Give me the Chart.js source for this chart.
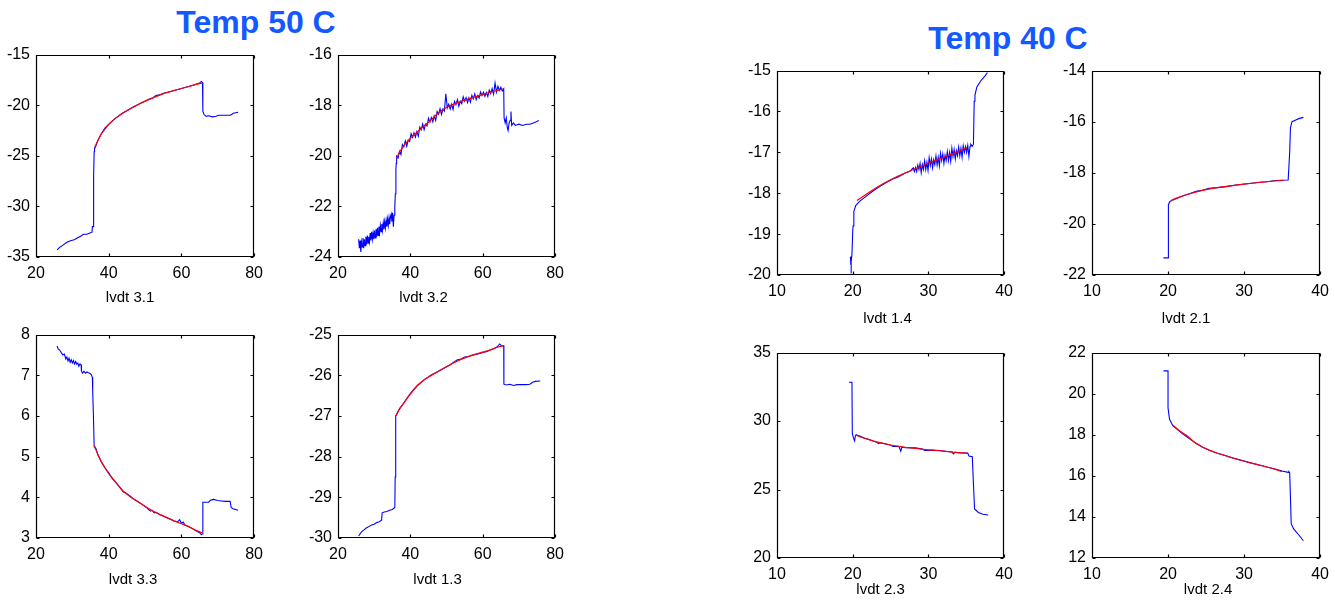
<!DOCTYPE html>
<html><head><meta charset="utf-8">
<script src="https://cdn.jsdelivr.net/npm/chart.js@4"></script>
<style>
html,body{margin:0;padding:0;background:#fff;}
body{width:1335px;height:603px;position:relative;overflow:hidden;font-family:"Liberation Sans",Arial,sans-serif;}
canvas{position:absolute;}
.ttl{position:absolute;font:bold 32px/32px "Liberation Sans",Arial,sans-serif;color:#1458ff;white-space:nowrap;transform:translateX(-50%);}
</style></head><body>
<div class="ttl" style="left:256px;top:6px">Temp 50 C</div>
<div class="ttl" style="left:1008px;top:22px">Temp 40 C</div>
<script>
// ---------- tick labels ----------
const xTicks50 = [20, 40, 60, 80];
const xTicks40 = [10, 20, 30, 40];
const yTicks31 = [-35, -30, -25, -20, -15];
const yTicks32 = [-24, -22, -20, -18, -16];
const yTicks33 = [3, 4, 5, 6, 7, 8];
const yTicks13 = [-30, -29, -28, -27, -26, -25];
const yTicks14 = [-20, -19, -18, -17, -16, -15];
const yTicks21 = [-22, -20, -18, -16, -14];
const yTicks23 = [20, 25, 30, 35];
const yTicks24 = [12, 14, 16, 18, 20, 22];

// ---------- series: measured (blue) and fit (red) ----------
const lvdt31Data = [[25.8,-34.3],[26.5,-34.05],[27.5,-33.8],[28.5,-33.55],[29.5,-33.4],[30.5,-33.3],[31.5,-33.1],[32.5,-32.9],[33,-32.75],[34,-32.75],[35,-32.6],[35.4,-32.55],[35.5,-32.0],[35.7,-32.0],[35.8,-30],[35.9,-27],[36.0,-24.6],[36.1,-24.3],[36.5,-24.0],[37,-23.5],[38,-22.8],[39,-22.25],[40,-21.9],[41,-21.55],[42,-21.25],[43,-21.0],[44,-20.75],[45,-20.55],[46,-20.33],[47,-20.12],[48,-19.95],[49,-19.75],[50,-19.6],[51,-19.42],[52,-19.3],[53,-19.05],[54,-18.98],[55,-18.82],[56,-18.75],[57,-18.64],[58,-18.55],[59,-18.45],[60,-18.35],[61,-18.26],[62,-18.15],[63,-18.05],[64,-17.92],[65,-17.8],[65.5,-17.65],[65.8,-17.75],[65.9,-20.6],[66.2,-20.9],[66.8,-21.1],[67.5,-21.05],[68.5,-21.15],[69.5,-21.1],[70.2,-21.0],[72,-21.0],[73.5,-21.0],[74.3,-20.8],[75.6,-20.7]];
const lvdt31Fit = [[36.1,-24.2],[37,-23.5],[38,-22.8],[40,-21.9],[42,-21.25],[44,-20.75],[46,-20.35],[48,-19.95],[50,-19.6],[52,-19.3],[54,-19.0],[56,-18.75],[58,-18.55],[60,-18.35],[62,-18.15],[64,-17.95],[65.8,-17.8]];

const lvdt32Data = [[25.7,-23.3],[25.9,-23.65],[26.1,-23.35],[26.3,-23.8],[26.5,-23.4],[26.7,-23.6],[26.9,-23.25],[27.1,-23.65],[27.3,-23.3],[27.5,-23.55],[27.7,-23.2],[27.9,-23.5],[28.1,-23.15],[28.3,-23.45],[28.5,-23.2],[28.7,-23.4],[28.9,-23.05],[29.1,-23.35],[29.3,-23.0],[29.5,-23.3],[29.7,-23.05],[29.9,-23.3],[30.1,-22.95],[30.3,-23.25],[30.5,-22.9],[30.7,-23.2],[30.9,-22.85],[31.1,-23.15],[31.3,-22.8],[31.5,-23.05],[31.7,-22.75],[31.9,-23.0],[32.1,-22.7],[32.3,-22.95],[32.5,-22.65],[32.7,-22.9],[32.9,-22.6],[33.1,-22.85],[33.3,-22.55],[33.5,-22.8],[33.7,-22.5],[33.9,-22.75],[34.1,-22.45],[34.3,-22.7],[34.5,-22.4],[34.7,-22.3],[34.9,-22.6],[35.1,-22.25],[35.3,-22.8],[35.5,-22.35],[35.7,-22.0],[35.85,-21.5],[36.0,-20.5],[36.1,-20.3],
[36.2,-20.02],[36.6,-20.09],[37.0,-19.82],[37.4,-19.95],[37.8,-19.56],[38.2,-19.65],[38.6,-19.41],[39.0,-19.62],[39.4,-19.38],[39.8,-19.43],[40.2,-19.13],[40.6,-19.27],[41.0,-19.09],[41.4,-19.26],[41.8,-19.04],[42.2,-19.22],[42.6,-18.87],[43.0,-18.97],[43.4,-18.74],[43.8,-18.97],[44.2,-18.75],[44.6,-18.82],[45.0,-18.52],[45.4,-18.67],[45.8,-18.49],[46.2,-18.66],[46.6,-18.43],[47.0,-18.6],[47.4,-18.25],[47.8,-18.36],[48.2,-18.14],[48.6,-18.37],[49.0,-18.15],[49.4,-18.23],[49.8,-17.55],[50.2,-18.11],[50.6,-17.96],[51.0,-18.15],[51.4,-17.96],[51.8,-18.17],[52.2,-17.85],[52.6,-17.98],[53.0,-17.78],[53.4,-18.04],[53.8,-17.84],[54.2,-17.94],[54.6,-17.67],[55.0,-17.84],[55.4,-17.7],[55.8,-17.9],[56.2,-17.71],[56.6,-17.88],[57.0,-17.61],[57.4,-17.75],[57.8,-17.55],[58.2,-17.78],[58.6,-17.62],[59.0,-17.72],[59.4,-17.48],[59.8,-17.62],[60.2,-17.49],[60.6,-17.65],[61.0,-17.5],[61.4,-17.66],[61.8,-17.4],[62.2,-17.54],[62.6,-17.34],[63.0,-17.56],[63.4,-17.12],[63.8,-17.48],[64.2,-17.25],[64.6,-17.42],[65.0,-17.29],[65.4,-17.44],[65.8,-17.35],
[65.9,-18.5],[66.2,-18.7],[66.5,-18.5],[66.8,-18.9],[67.0,-19.0],[67.3,-18.7],[67.6,-18.6],[67.8,-18.25],[68.0,-18.8],[68.5,-18.7],[69.0,-18.8],[70.0,-18.75],[71.0,-18.8],[72.0,-18.75],[73.0,-18.75],[74.0,-18.7],[74.8,-18.65],[75.5,-18.6]];
const lvdt32Fit = [[36.2,-20.1],[37,-19.85],[38.4,-19.56],[40,-19.3],[41.6,-19.1],[43.5,-18.85],[45.3,-18.64],[47,-18.4],[48.9,-18.18],[50.7,-18.03],[52.6,-17.92],[55,-17.8],[58.1,-17.66],[61.7,-17.5],[65.8,-17.35]];

const lvdt33Data = [[25.8,7.72],[26.1,7.65],[26.5,7.62],[27,7.55],[27.4,7.5],[27.8,7.52],[28.2,7.4],[28.5,7.45],[28.8,7.35],[29.1,7.42],[29.4,7.32],[29.7,7.38],[30.0,7.3],[30.3,7.36],[30.6,7.28],[30.9,7.34],[31.2,7.27],[31.5,7.3],[31.8,7.22],[32.1,7.28],[32.4,7.26],[32.5,7.1],[32.8,7.05],[33.2,7.1],[33.6,7.05],[34.0,7.08],[34.4,7.06],[34.8,7.05],[35.2,7.02],[35.5,6.95],[35.6,6.6],[35.8,6.0],[36.0,5.25],[36.2,5.22],[36.5,5.2],[37,5.05],[38,4.87],[39,4.72],[40,4.6],[41,4.46],[42,4.36],[43,4.25],[44,4.13],[44.5,4.12],[45,4.09],[46,4.02],[47,3.95],[48,3.9],[49,3.84],[50,3.77],[50.5,3.74],[51,3.7],[51.5,3.66],[52,3.68],[52.5,3.62],[53,3.63],[54,3.58],[55,3.54],[56,3.5],[57,3.46],[58,3.42],[59,3.4],[59.5,3.45],[60,3.36],[60.5,3.39],[61,3.32],[62,3.28],[63,3.23],[64,3.18],[65,3.13],[65.5,3.08],[65.8,3.1],[65.9,3.88],[66.5,3.88],[67.5,3.88],[68,3.93],[68.8,3.95],[70,3.92],[71,3.91],[72,3.9],[73.4,3.9],[73.7,3.75],[74.2,3.72],[75.6,3.68]];
const lvdt33Fit = [[36.1,5.26],[37,5.05],[38,4.87],[39,4.72],[40,4.58],[42,4.36],[44,4.15],[46,4.01],[48,3.89],[50,3.78],[52,3.67],[54,3.58],[56,3.5],[58,3.42],[60,3.35],[62,3.28],[64,3.19],[65.8,3.12]];

const lvdt13Data = [[25.7,-29.95],[26.5,-29.85],[27.2,-29.8],[27.9,-29.75],[28.5,-29.72],[29.3,-29.68],[30,-29.66],[30.7,-29.62],[31.4,-29.6],[32.05,-29.56],[32.2,-29.38],[32.8,-29.36],[33.5,-29.35],[34.3,-29.32],[35,-29.3],[35.7,-29.25],[35.8,-28.5],[35.9,-28.0],[36.0,-27.0],[36.5,-26.9],[37,-26.82],[38,-26.7],[39,-26.57],[40,-26.45],[41,-26.34],[42,-26.24],[43,-26.17],[44,-26.1],[45,-26.04],[46,-25.98],[47,-25.94],[48,-25.89],[49,-25.84],[50,-25.79],[51,-25.74],[52,-25.68],[53,-25.62],[54,-25.6],[55,-25.55],[56,-25.54],[57,-25.51],[58,-25.49],[59,-25.47],[60,-25.44],[61,-25.42],[62,-25.38],[63,-25.35],[64,-25.3],[64.7,-25.23],[65.2,-25.28],[65.8,-25.27],[65.85,-26.22],[66.5,-26.24],[67.5,-26.22],[68.5,-26.25],[69.5,-26.23],[70.5,-26.23],[72,-26.23],[73,-26.22],[73.8,-26.17],[74.5,-26.15],[75.9,-26.14]];
const lvdt13Fit = [[36,-27.0],[37,-26.83],[38,-26.71],[40,-26.46],[42,-26.25],[44,-26.1],[46,-25.99],[48,-25.89],[50,-25.79],[52,-25.69],[54,-25.61],[56,-25.54],[58,-25.48],[60,-25.43],[62,-25.38],[64,-25.31],[65.8,-25.27]];

const lvdt14Data = [[19.85,-19.95],[19.8,-19.7],[19.7,-19.55],[19.75,-19.75],[19.9,-19.5],[20.0,-18.95],[20.05,-18.8],[20.15,-18.45],[20.4,-18.3],[20.9,-18.2],[21.8,-18.07],[22.5,-17.97],[23.5,-17.84],[24.5,-17.73],[25.3,-17.65],[26,-17.6],[27,-17.5],[27.5,-17.47],
[28.0,-17.38],[28.15,-17.47],[28.3,-17.37],[28.45,-17.47],[28.6,-17.31],[28.75,-17.42],[28.9,-17.27],[29.05,-17.5],[29.2,-17.3],[29.35,-17.42],[29.5,-17.21],[29.65,-17.42],[29.8,-17.24],[29.95,-17.44],[30.1,-17.13],[30.25,-17.32],[30.4,-17.16],[30.55,-17.38],[30.7,-17.18],[30.85,-17.3],[31.0,-17.09],[31.15,-17.31],[31.3,-17.12],[31.45,-17.33],[31.6,-17.02],[31.75,-17.2],[31.9,-17.04],[32.05,-17.27],[32.2,-17.07],[32.35,-17.2],[32.5,-16.98],[32.65,-17.2],[32.8,-17.0],[32.95,-17.22],[33.1,-16.9],[33.25,-17.1],[33.4,-16.93],[33.55,-17.16],[33.7,-16.96],[33.85,-17.08],[34.0,-16.87],[34.15,-17.09],[34.3,-16.9],[34.45,-17.12],[34.6,-16.84],[34.75,-17.0],[34.9,-16.86],[35.05,-17.0],[35.2,-16.83],[35.35,-17.1],[35.5,-16.85],[35.6,-16.8],[35.8,-16.85],[35.95,-16.8],
[36.05,-15.75],[36.15,-15.6],[36.4,-15.4],[37.0,-15.23],[37.4,-15.15],[37.8,-15.05]];
const lvdt14Fit = [[20.55,-18.18],[21,-18.12],[22,-18.0],[23,-17.88],[24,-17.77],[25,-17.67],[26,-17.58],[27,-17.5],[28,-17.42],[29,-17.34],[30,-17.26],[31,-17.19],[32,-17.12],[33,-17.05],[34,-16.97],[35.1,-16.88]];

const lvdt21Data = [[19.4,-21.33],[20.0,-21.33],[20.0,-19.6],[20.1,-19.25],[20.25,-19.12],[20.65,-19.06],[21.2,-19.0],[22,-18.9],[22.8,-18.82],[23.7,-18.72],[24.5,-18.68],[25.4,-18.61],[26.5,-18.58],[27.6,-18.54],[28.7,-18.49],[29.8,-18.45],[31,-18.41],[32,-18.37],[33,-18.35],[34.1,-18.3],[35,-18.29],[35.8,-18.28],[36.0,-17.2],[36.1,-16.24],[36.3,-16.0],[36.8,-15.93],[37.2,-15.88],[37.8,-15.83]];
const lvdt21Fit = [[20.4,-19.09],[21,-19.0],[22,-18.9],[23,-18.81],[24,-18.73],[25,-18.66],[26,-18.6],[27,-18.56],[28,-18.52],[29,-18.48],[30,-18.44],[31,-18.41],[32,-18.38],[33,-18.35],[34,-18.32],[35.1,-18.3]];

const lvdt23Data = [[19.5,32.83],[19.9,32.83],[19.95,29.1],[20.1,28.77],[20.25,28.55],[20.35,28.9],[20.45,29.0],[20.9,28.9],[21.5,28.77],[22,28.68],[22.6,28.57],[23.2,28.45],[23.4,28.35],[23.6,28.42],[24.4,28.33],[25,28.25],[25.3,28.15],[26.1,28.16],[26.35,27.8],[26.5,28.1],[27,28.05],[28.3,28.04],[29.2,27.95],[29.5,27.85],[30.5,27.88],[31.5,27.85],[32.5,27.78],[33.1,27.75],[33.3,27.6],[33.5,27.72],[34.2,27.68],[35.2,27.66],[35.35,27.44],[35.8,27.4],[35.95,25.4],[36.1,23.58],[36.6,23.33],[37.2,23.2],[37.9,23.14]];
const lvdt23Fit = [[20.5,28.96],[21,28.85],[22,28.67],[23,28.5],[24,28.37],[25,28.25],[26,28.16],[27,28.08],[28,28.02],[29,27.96],[30,27.9],[31,27.85],[32,27.8],[33,27.74],[34,27.69],[35.2,27.65]];

const lvdt24Data = [[19.4,21.11],[20.0,21.11],[20.0,19.31],[20.2,18.75],[20.65,18.43],[21.2,18.26],[22,18.02],[22.8,17.82],[23.7,17.57],[24.5,17.4],[25.4,17.25],[26.5,17.1],[27.6,16.98],[28.7,16.85],[29.8,16.75],[31,16.62],[32,16.53],[33,16.43],[34.1,16.33],[35,16.24],[35.8,16.17],[35.9,16.2],[36.0,16.15],[36.1,14.96],[36.2,13.67],[36.5,13.43],[37.2,13.12],[37.8,12.84]];
const lvdt24Fit = [[20.65,18.46],[21.5,18.2],[22.5,17.95],[23.5,17.63],[24.5,17.4],[25.5,17.24],[26.5,17.1],[27.5,16.99],[28.5,16.87],[29.5,16.76],[30.5,16.66],[31.5,16.57],[32.5,16.48],[33.5,16.38],[35,16.2]];

// ---------- layout of the eight panels ----------
const panels = [
  {box:[36,53,256,257],   xt:xTicks50, yt:yTicks31, data:lvdt31Data, fit:lvdt31Fit, label:'lvdt 3.1', dx:-15, dy:41},
  {box:[338,53,557,257],  xt:xTicks50, yt:yTicks32, data:lvdt32Data, fit:lvdt32Fit, label:'lvdt 3.2', dx:-23, dy:41},
  {box:[36,333,256,538],  xt:xTicks50, yt:yTicks33, data:lvdt33Data, fit:lvdt33Fit, label:'lvdt 3.3', dx:-12, dy:42},
  {box:[338,333,557,538], xt:xTicks50, yt:yTicks13, data:lvdt13Data, fit:lvdt13Fit, label:'lvdt 1.3', dx:-9,  dy:42},
  {box:[777,69,1006,275], xt:xTicks40, yt:yTicks14, data:lvdt14Data, fit:lvdt14Fit, label:'lvdt 1.4', dx:-3,  dy:44},
  {box:[1092,69,1322,275],xt:xTicks40, yt:yTicks21, data:lvdt21Data, fit:lvdt21Fit, label:'lvdt 2.1', dx:-20, dy:44},
  {box:[777,351,1006,558],xt:xTicks40, yt:yTicks23, data:lvdt23Data, fit:lvdt23Fit, label:'lvdt 2.3', dx:-10, dy:32},
  {box:[1092,351,1322,558],xt:xTicks40,yt:yTicks24, data:lvdt24Data, fit:lvdt24Fit, label:'lvdt 2.4', dx:2,   dy:32}
];

const FONT = '"Liberation Sans", Arial, sans-serif';
const YW = 36, PT = 14, PR = 14, XH = 56;

const matlabAxes = {
  id: 'matlab',
  afterDraw(chart, args, opts) {
    const {ctx, chartArea: a, scales: {x, y}} = chart;
    ctx.save();
    ctx.strokeStyle = '#000';
    ctx.lineWidth = 1.2;
    const L = Math.round(a.left) + 0.5, R = Math.round(a.right) - 0.5;
    const T = Math.round(a.top) + 0.5, B = Math.round(a.bottom) - 0.5;
    ctx.beginPath();
    ctx.rect(L, T, R - L, B - T);
    x.ticks.forEach(t => {
      const p = Math.round(x.getPixelForValue(t.value)) + 0.5;
      ctx.moveTo(p, B); ctx.lineTo(p, B - 3);
      ctx.moveTo(p, T); ctx.lineTo(p, T + 3);
    });
    y.ticks.forEach(t => {
      const p = Math.round(y.getPixelForValue(t.value)) + 0.5;
      ctx.moveTo(L, p); ctx.lineTo(L + 3, p);
      ctx.moveTo(R, p); ctx.lineTo(R - 3, p);
    });
    ctx.stroke();
    ctx.fillStyle = '#000';
    ctx.font = '15px ' + FONT;
    ctx.textAlign = 'center';
    ctx.textBaseline = 'middle';
    ctx.fillText(opts.label, (a.left + a.right) / 2 + opts.dx, a.bottom + opts.dy);
    ctx.restore();
  }
};

panels.forEach(p => {
  const [L, T, R, B] = p.box;
  const cv = document.createElement('canvas');
  const w = R - L + YW + PR, h = B - T + PT + XH;
  cv.width = w; cv.height = h;
  cv.style.left = (L - YW) + 'px';
  cv.style.top = (T - PT) + 'px';
  cv.style.width = w + 'px';
  cv.style.height = h + 'px';
  document.body.appendChild(cv);
  const tickFont = {family: FONT, size: 16};
  new Chart(cv, {
    type: 'line',
    data: {
      datasets: [
        {data: p.fit.map(([x, y]) => ({x, y})), borderColor: '#ff0000', borderWidth: 1.2, pointRadius: 0, tension: 0, fill: false},
        {data: p.data.map(([x, y]) => ({x, y})), borderColor: '#0000ff', borderWidth: 1.1, pointRadius: 0, tension: 0, fill: false}
      ]
    },
    options: {
      responsive: false,
      animation: false,
      devicePixelRatio: 1,
      events: [],
      layout: {padding: {top: PT, right: PR, left: 0, bottom: 0}},
      plugins: {legend: {display: false}, tooltip: {enabled: false},
        matlab: {label: p.label, dx: p.dx, dy: p.dy}},
      scales: {
        x: {
          type: 'linear', position: 'bottom',
          min: p.xt[0], max: p.xt[p.xt.length - 1],
          grid: {display: false, drawTicks: false}, border: {display: false},
          ticks: {font: tickFont, color: '#000', padding: 7, maxRotation: 0, autoSkip: false},
          afterBuildTicks: s => { s.ticks = p.xt.map(v => ({value: v})); },
          afterFit: s => { s.height = XH; }
        },
        y: {
          type: 'linear', position: 'left',
          min: p.yt[0], max: p.yt[p.yt.length - 1],
          grid: {display: false, drawTicks: false}, border: {display: false},
          ticks: {font: tickFont, color: '#000', padding: 6, autoSkip: false},
          afterBuildTicks: s => { s.ticks = p.yt.map(v => ({value: v})); },
          afterFit: s => { s.width = YW; }
        }
      }
    },
    plugins: [matlabAxes]
  });
});
</script>
</body></html>
